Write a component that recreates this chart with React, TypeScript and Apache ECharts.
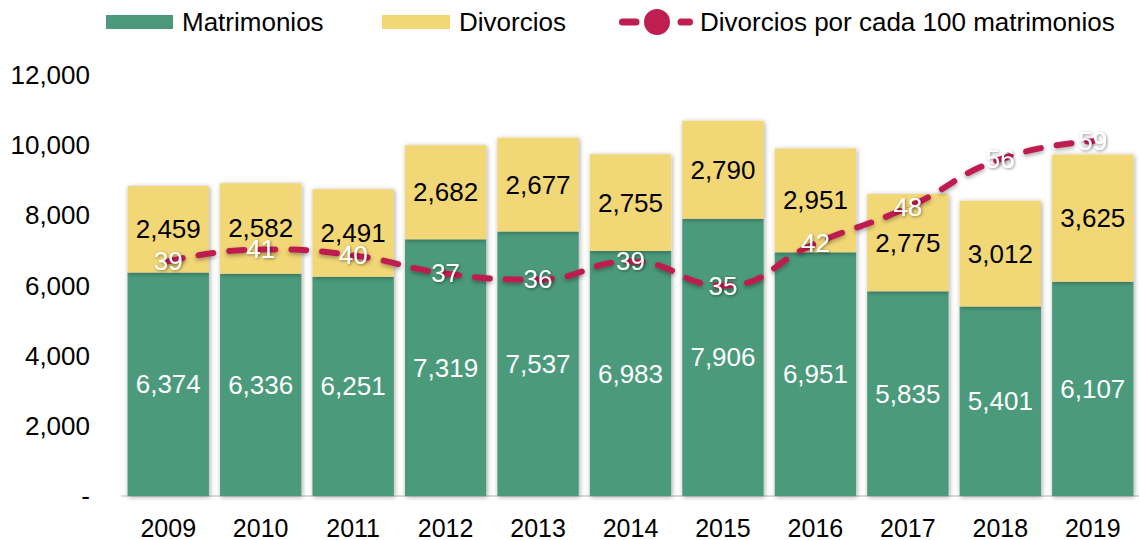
import React, { useEffect, useRef } from "react";
import * as echarts from "echarts";

const years = ["2009", "2010", "2011", "2012", "2013", "2014", "2015", "2016", "2017", "2018", "2019"];
const matrimonios = [6374, 6336, 6251, 7319, 7537, 6983, 7906, 6951, 5835, 5401, 6107];
const divorcios = [2459, 2582, 2491, 2682, 2677, 2755, 2790, 2951, 2775, 3012, 3625];
const ratio = [39, 41, 40, 37, 36, 39, 35, 42, 48, 56, 59];

const GREEN = "#4C9A7B";
const YELLOW = "#F2D776";
const RED = "#BE1E50";
const FONT = "'Liberation Sans', Arial, sans-serif";

const NAME_M = "Matrimonios";
const NAME_D = "Divorcios";
const NAME_R = "Divorcios por cada 100 matrimonios";

const LINE_ICON =
  "path://M3.5,9.5 L17,9.5 A3.5,3.5 0 0 1 17,16.5 L3.5,16.5 A3.5,3.5 0 0 1 3.5,9.5 Z " +
  "M25,13 A13,13 0 1 0 51,13 A13,13 0 1 0 25,13 Z " +
  "M62,9.5 L70.5,9.5 A3.5,3.5 0 0 1 70.5,16.5 L62,16.5 A3.5,3.5 0 0 1 62,9.5 Z";

const fmt = (v: number) => v.toLocaleString("en-US");

export default function App() {
  const ref = useRef<HTMLDivElement>(null);

  useEffect(() => {
    if (!ref.current) return;
    const chart = echarts.init(ref.current, null, { renderer: "svg" });
    const legendText = { fontSize: 26, color: "#000", fontFamily: FONT, padding: [0, 0, 0, 4] };
    const barShadow = {
      shadowBlur: 5,
      shadowColor: "rgba(0,0,0,0.35)",
      shadowOffsetX: 1,
      shadowOffsetY: 1,
    };
    chart.setOption({
      animation: false,
      backgroundColor: "#fff",
      textStyle: { fontFamily: FONT },
      legend: [
        {
          left: 101,
          top: 4,
          itemWidth: 67,
          itemHeight: 14,
          textStyle: legendText,
          data: [{ name: NAME_M, icon: "rect", itemStyle: { color: GREEN, borderWidth: 0, shadowBlur: 0 } }],
          selectedMode: false,
        },
        {
          left: 377,
          top: 4,
          itemWidth: 68,
          itemHeight: 14,
          textStyle: legendText,
          data: [{ name: NAME_D, icon: "rect", itemStyle: { color: YELLOW, borderWidth: 0, shadowBlur: 0 } }],
          selectedMode: false,
        },
        {
          left: 614,
          top: 4,
          itemWidth: 74,
          itemHeight: 26,
          textStyle: { ...legendText, padding: [0, 0, 0, 2] },
          data: [
            {
              name: NAME_R,
              icon: LINE_ICON,
              itemStyle: { color: RED, borderWidth: 0, opacity: 1, shadowBlur: 0 },
            },
          ],
          selectedMode: false,
        },
      ],
      grid: { left: 122, right: -6, top: 75, bottom: 44 },
      xAxis: {
        type: "category",
        data: years,
        axisLine: { show: true, lineStyle: { color: "#D9D9D9", width: 2 } },
        axisTick: { show: false },
        axisLabel: { color: "#000", fontSize: 25, fontFamily: FONT, margin: 19 },
      },
      yAxis: [
        {
          type: "value",
          min: 0,
          max: 12000,
          interval: 2000,
          splitLine: { show: false },
          axisLine: { show: false },
          axisTick: { show: false },
          axisLabel: {
            color: "#000",
            fontSize: 26,
            fontFamily: FONT,
            margin: 32,
            formatter: (v: number) => (v === 0 ? "-" : fmt(v)),
          },
        },
        {
          type: "value",
          min: 0,
          max: 70,
          show: false,
          splitLine: { show: false },
        },
      ],
      series: [
        {
          name: NAME_M,
          type: "bar",
          stack: "total",
          data: matrimonios,
          barCategoryGap: "12%",
          itemStyle: { color: GREEN, ...barShadow },
          label: {
            show: true,
            position: "inside",
            color: "#fff",
            fontSize: 26,
            fontFamily: FONT,
            formatter: (p: any) => fmt(p.value),
          },
        },
        {
          name: NAME_D,
          type: "bar",
          stack: "total",
          data: divorcios,
          barCategoryGap: "12%",
          itemStyle: { color: YELLOW, ...barShadow },
          label: {
            show: true,
            position: "inside",
            color: "#000",
            fontSize: 26,
            fontFamily: FONT,
            formatter: (p: any) => fmt(p.value),
          },
        },
        {
          name: NAME_R,
          type: "line",
          yAxisIndex: 1,
          data: ratio,
          smooth: true,
          symbol: "circle",
          symbolSize: 1,
          itemStyle: { color: RED },
          lineStyle: {
            color: RED,
            width: 6,
            type: [15, 16],
            cap: "round",
            shadowBlur: 4,
            shadowColor: "rgba(0,0,0,0.35)",
            shadowOffsetY: 2,
          },
          label: {
            show: true,
            position: "inside",
            color: "#fff",
            fontSize: 26,
            fontFamily: FONT,
            textShadowColor: "rgba(0,0,0,0.45)",
            textShadowBlur: 3,
            textShadowOffsetX: 1,
            textShadowOffsetY: 1,
          },
          z: 5,
        },
      ],
    });
    return () => chart.dispose();
  }, []);

  return (
    <div
      ref={ref}
      style={{ position: "absolute", left: 0, top: 0, width: 1139, height: 540 }}
    />
  );
}
